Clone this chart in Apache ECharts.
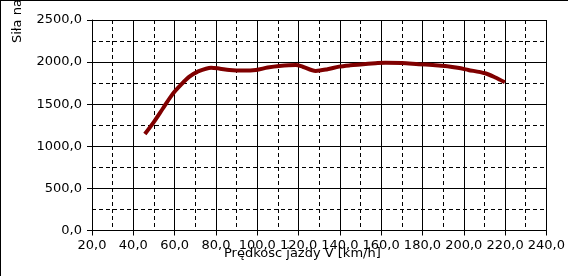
<!DOCTYPE html>
<html>
<head>
<meta charset="utf-8">
<script src="https://cdn.jsdelivr.net/npm/echarts@6/dist/echarts.min.js"></script>
<style>
html,body{margin:0;padding:0;background:#fff;}
#wrap{position:relative;width:568px;height:276px;overflow:hidden;}
#chart{width:568px;height:276px;}
#frame{position:absolute;left:0;top:0;width:568px;height:276px;box-sizing:border-box;border-top:1px solid #000;border-left:1px solid #000;pointer-events:none;}
</style>
</head>
<body>
<div id="wrap"><div id="chart"></div><div id="frame"></div></div>
<script>
var speed = [45.6, 50, 54.4, 59, 63, 67, 71, 77.7, 82, 86.5, 93, 99.4, 105, 110.6, 118.7, 122, 128.3, 134, 139.6, 145, 150, 157.3, 162.1, 170, 178.1, 185, 191.0, 197, 202.2, 210.3, 215, 219.9];
var force = [1146, 1290, 1452, 1620, 1730, 1825, 1885, 1934, 1922, 1907, 1900, 1907, 1935, 1954, 1966, 1945, 1895, 1915, 1946, 1962, 1972, 1986, 1993, 1988, 1975, 1965, 1954, 1932, 1907, 1867, 1820, 1760];
var xTitle = 'Prędkosc jazdy V [km/h]';
var yTitle = 'Siła napędowa F [N]';

var fmt = function (v) { return v.toFixed(1).replace('.', ','); };
var font = 'DejaVu Sans';
var chart = echarts.init(document.getElementById('chart'), null, {renderer: 'canvas'});
var pts = speed.map(function (v, i) { return [v, force[i]]; });
chart.setOption({
  animation: false,
  backgroundColor: '#fff',
  grid: {left: 92, top: 20, right: 20, bottom: 45.5, containLabel: false},
  xAxis: {
    type: 'value', min: 20, max: 240, interval: 20,
    axisLine: {show: true, lineStyle: {color: '#000', width: 1}},
    axisTick: {show: true, length: 5, lineStyle: {color: '#000'}},
    axisLabel: {color: '#000', fontFamily: font, fontSize: 13, margin: 9, formatter: fmt},
    splitLine: {show: true, lineStyle: {color: '#000', width: 1}},
    minorTick: {show: false, splitNumber: 2},
    minorSplitLine: {show: true, lineStyle: {color: '#000', width: 1, type: [4, 3]}}
  },
  yAxis: {
    type: 'value', min: 0, max: 2500, interval: 500,
    axisLine: {show: true, lineStyle: {color: '#000', width: 1}},
    axisTick: {show: true, length: 5, lineStyle: {color: '#000'}},
    axisLabel: {color: '#000', fontFamily: font, fontSize: 13, margin: 10, formatter: fmt},
    splitLine: {show: true, lineStyle: {color: '#000', width: 1}},
    minorTick: {show: false, splitNumber: 2},
    minorSplitLine: {show: true, lineStyle: {color: '#000', width: 1, type: [4, 3]}}
  },
  graphic: [
    {type: 'text', x: 224, y: 254, style: {text: xTitle, fill: '#000', font: '13px "DejaVu Sans"', textVerticalAlign: 'middle', textAlign: 'left'}},
    {type: 'text', x: 18, y: 43, rotation: Math.PI / 2, style: {text: yTitle, fill: '#000', font: '13px "DejaVu Sans"', textVerticalAlign: 'middle', textAlign: 'left'}}
  ],
  series: [{
    type: 'line', data: pts, showSymbol: false, smooth: 0.3,
    lineStyle: {color: '#800000', width: 4}
  }]
});
</script>
</body>
</html>
